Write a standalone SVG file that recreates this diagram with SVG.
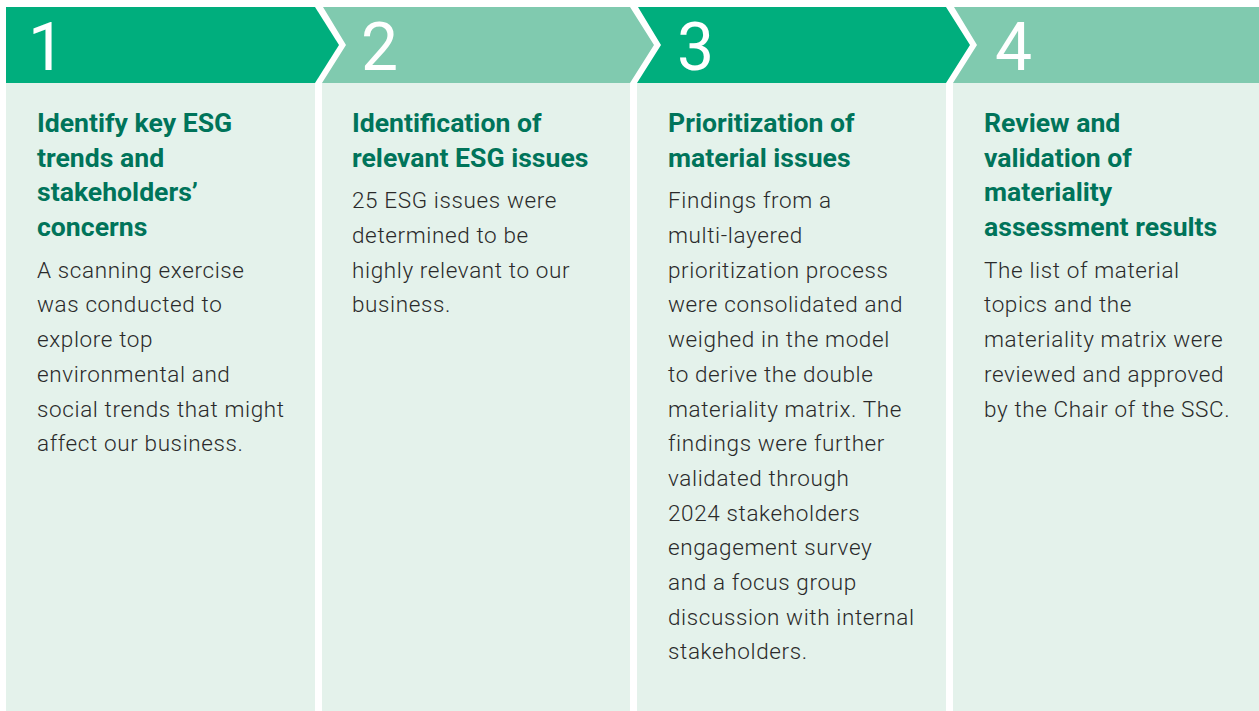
<svg xmlns="http://www.w3.org/2000/svg" width="1259" height="711" viewBox="0 0 1259 711">
<style>
.dark{fill:#00AE7D}
.light{fill:#80CAAF}
.panel{fill:#E4F2EB}
.num{font-family:Roboto,"Liberation Sans",sans-serif;font-size:66px;fill:#FFFFFF;font-weight:400}
.title{font-family:Roboto,"Liberation Sans",sans-serif;font-size:26.6px;font-weight:700;fill:#00745A}
.body{font-family:Roboto,"Liberation Sans",sans-serif;font-size:22.5px;font-weight:300;fill:#2A2A2A;letter-spacing:0.62px}
</style>
<rect x="0" y="0" width="1259" height="711" fill="#FFFFFF"/>
<g id="step1">
<rect class="panel" x="6" y="83" width="309" height="628"/>
<polygon class="dark" points="6,7 315,7 339,45 315,83 6,83"/>
<text class="num" x="28" y="70">1</text>
<text class="title" x="37"><tspan x="37" y="132">Identify key ESG</tspan><tspan x="37" y="166.7">trends and</tspan><tspan x="37" y="201.4">stakeholders’</tspan><tspan x="37" y="236.1">concerns</tspan></text>
<text class="body"><tspan x="37" y="277.7">A scanning exercise</tspan><tspan x="37" y="312.4">was conducted to</tspan><tspan x="37" y="347.1">explore top</tspan><tspan x="37" y="381.8">environmental and</tspan><tspan x="37" y="416.5">social trends that might</tspan><tspan x="37" y="451.2">affect our business.</tspan></text>
</g>
<g id="step2">
<rect class="panel" x="322" y="83" width="308" height="628"/>
<polygon class="light" points="323,7 630,7 654,45 630,83 322,83 346,45"/>
<text class="num" x="361" y="70">2</text>
<text class="title"><tspan x="352" y="132">Identification of</tspan><tspan x="352" y="166.7">relevant ESG issues</tspan></text>
<text class="body"><tspan x="352" y="208.3">25 ESG issues were</tspan><tspan x="352" y="243">determined to be</tspan><tspan x="352" y="277.7">highly relevant to our</tspan><tspan x="352" y="312.4">business.</tspan></text>
</g>
<g id="step3">
<rect class="panel" x="637" y="83" width="309" height="628"/>
<polygon class="dark" points="638,7 946,7 970,45 946,83 637,83 661,45"/>
<text class="num" x="677" y="70">3</text>
<text class="title"><tspan x="668" y="132">Prioritization of</tspan><tspan x="668" y="166.7">material issues</tspan></text>
<text class="body"><tspan x="668" y="208.3">Findings from a</tspan><tspan x="668" y="243">multi-layered</tspan><tspan x="668" y="277.7">prioritization process</tspan><tspan x="668" y="312.4">were consolidated and</tspan><tspan x="668" y="347.1">weighed in the model</tspan><tspan x="668" y="381.8">to derive the double</tspan><tspan x="668" y="416.5">materiality matrix. The</tspan><tspan x="668" y="451.2">findings were further</tspan><tspan x="668" y="485.9">validated through</tspan><tspan x="668" y="520.6">2024 stakeholders</tspan><tspan x="668" y="555.3">engagement survey</tspan><tspan x="668" y="590">and a focus group</tspan><tspan x="668" y="624.7">discussion with internal</tspan><tspan x="668" y="659.4">stakeholders.</tspan></text>
</g>
<g id="step4">
<rect class="panel" x="953" y="83" width="306" height="628"/>
<polygon class="light" points="954,7 1259,7 1259,83 953,83 977,45"/>
<text class="num" x="995" y="70">4</text>
<text class="title"><tspan x="984" y="132">Review and</tspan><tspan x="984" y="166.7">validation of</tspan><tspan x="984" y="201.4">materiality</tspan><tspan x="984" y="236.1">assessment results</tspan></text>
<text class="body"><tspan x="984" y="277.7">The list of material</tspan><tspan x="984" y="312.4">topics and the</tspan><tspan x="984" y="347.1">materiality matrix were</tspan><tspan x="984" y="381.8">reviewed and approved</tspan><tspan x="984" y="416.5">by the Chair of the SSC.</tspan></text>
</g>
<g id="connectors"></g>
</svg>
